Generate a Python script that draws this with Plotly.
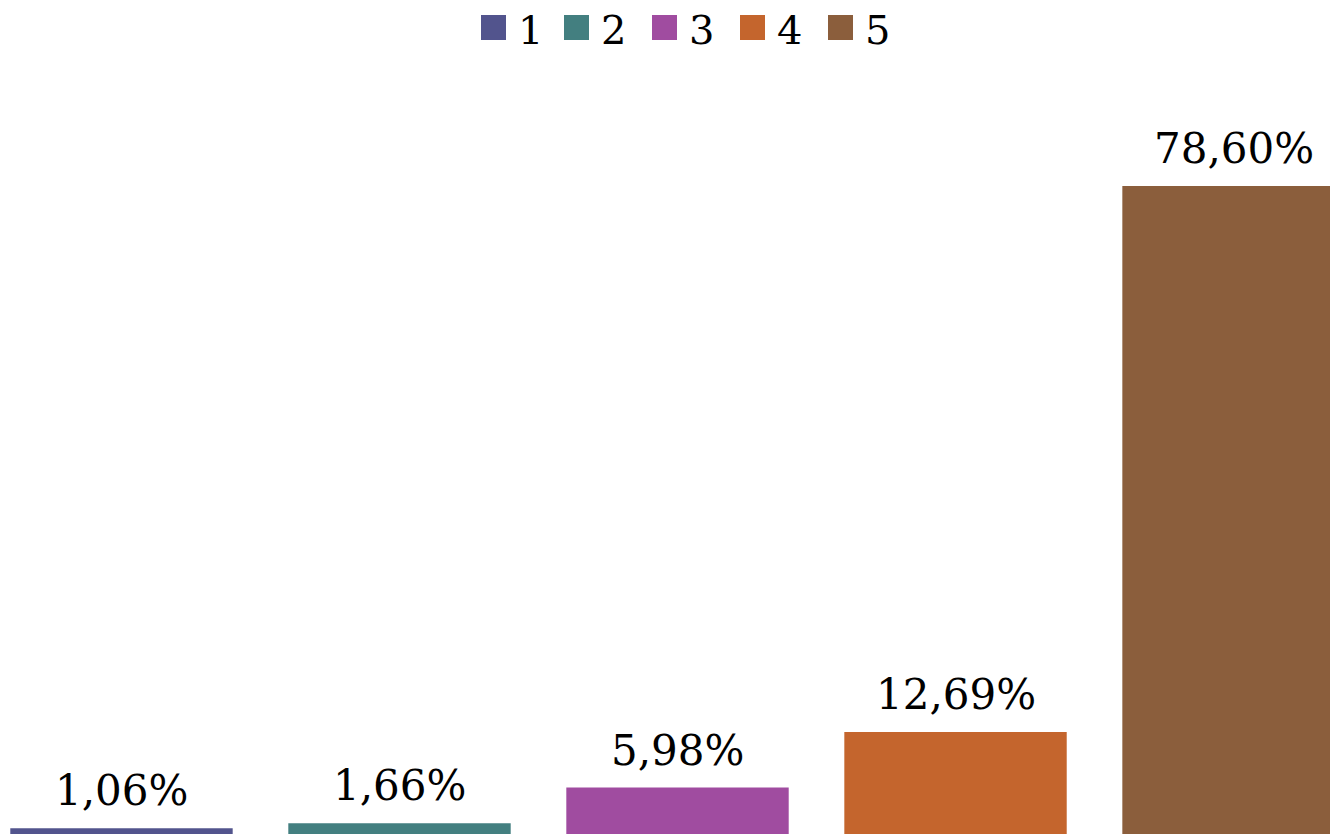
import plotly.graph_objects as go

categories = ["1", "2", "3", "4", "5"]
values = [1.06, 1.66, 5.98, 12.69, 78.60]
colors = ["#52548D", "#437F80", "#A04CA0", "#C4652D", "#8B5E3C"]

W, H = 1330, 834
FONT = "DejaVu Serif"

fig = go.Figure()
fig.add_trace(go.Bar(
    x=categories,
    y=values,
    marker=dict(color=colors, line=dict(width=0)),
    showlegend=False,
    hoverinfo="skip",
))

annotations = []
# value labels above bars (x given as category index)
for i, v in enumerate(values):
    annotations.append(dict(
        x=i, y=v, xref="x", yref="y",
        text=f"{v:.2f}".replace(".", ",") + "%",
        showarrow=False, xanchor="center", yanchor="bottom", yshift=11,
        font=dict(family=FONT, size=42, color="#000000"),
    ))

# manual legend (large squares)
shapes = []
sq = 25
x_start = 476
step = 88
y_top = 15
for i, (cat, col) in enumerate(zip(categories, colors)):
    x0 = x_start + i * step + (5 if i == 0 else 0)
    shapes.append(dict(type="rect", xref="paper", yref="paper",
                       x0=x0 / W, x1=(x0 + sq) / W,
                       y0=1 - (y_top + sq) / H, y1=1 - y_top / H,
                       fillcolor=col, line=dict(width=0)))
    annotations.append(dict(xref="paper", yref="paper",
                            x=(x0 + sq + 10) / W, y=1 - 30 / H,
                            xanchor="left", yanchor="middle",
                            text=cat, showarrow=False,
                            font=dict(family=FONT, size=40, color="#000000")))

fig.update_layout(
    width=W, height=H,
    margin=dict(l=0, r=0, t=0, b=0),
    paper_bgcolor="white", plot_bgcolor="white",
    bargap=0.2,
    xaxis=dict(type="category", range=[-0.437, 4.347], visible=False, fixedrange=True),
    yaxis=dict(range=[0.374, 101.05], visible=False, fixedrange=True),
    shapes=shapes,
    annotations=annotations,
)

fig.write_html(
    "out.html",
    config={"displayModeBar": False},
    post_script="document.body.style.margin='0';document.body.style.overflow='hidden';",
)
